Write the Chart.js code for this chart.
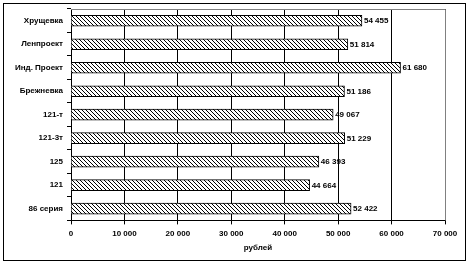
<!DOCTYPE html>
<html>
<head>
<meta charset="utf-8">
<script src="https://cdn.jsdelivr.net/npm/chart.js@4/dist/chart.umd.min.js"></script>
<style>
  html, body { margin: 0; padding: 0; background: #fff; }
  #wrap { position: absolute; left: 3px; top: 3px; width: 463px; height: 258px; border: 1px solid #000; box-sizing: border-box; }
  canvas { position: absolute; left: 0; top: 0; }
</style>
</head>
<body>
<div id="wrap"></div>
<canvas id="c" width="471" height="265"></canvas>
<script>
const categories = ['Хрущевка', 'Ленпроект', 'Инд. Проект', 'Брежневка', '121-т', '121-3т', '125', '121', '86 серия'];
const values = [54455, 51814, 61680, 51186, 49067, 51229, 46393, 44664, 52422];
const xTicks = [0, 10000, 20000, 30000, 40000, 50000, 60000, 70000];

function fmt(v) {
  return String(v).replace(/\B(?=(\d{3})+(?!\d))/g, ' ');
}

// diagonal hatch
const pc = document.createElement('canvas');
pc.width = 4; pc.height = 4;
const px = pc.getContext('2d');
px.fillStyle = '#fff';
px.fillRect(0, 0, 4, 4);
px.strokeStyle = '#000';
px.lineWidth = 1;
px.beginPath();
px.moveTo(-1, -1); px.lineTo(5, 5);
px.moveTo(-1, 3); px.lineTo(1, 5);
px.moveTo(3, -1); px.lineTo(5, 1);
px.stroke();
const ctx = document.getElementById('c').getContext('2d');
const hatch = ctx.createPattern(pc, 'repeat');

const FONT = { family: '"Liberation Sans", Arial, sans-serif', size: 8, weight: 'bold' };

const extras = {
  id: 'extras',
  afterDatasetsDraw(chart) {
    const c = chart.ctx, a = chart.chartArea;
    c.save();
    c.strokeStyle = '#808080';
    c.lineWidth = 1;
    c.beginPath();
    c.moveTo(a.left, a.top + 0.5); c.lineTo(a.right + 0.5, a.top + 0.5);
    c.lineTo(a.right + 0.5, a.bottom);
    c.stroke();
    c.fillStyle = '#000';
    c.font = 'bold 8px "Liberation Sans", Arial, sans-serif';
    c.textBaseline = 'middle';
    chart.getDatasetMeta(0).data.forEach((b, i) => {
      c.fillText(fmt(values[i]), b.x + 2, b.y + 0.5);
    });
    c.restore();
  }
};

new Chart(ctx, {
  type: 'bar',
  data: {
    labels: categories,
    datasets: [{
      data: values,
      backgroundColor: hatch,
      borderColor: '#000',
      borderWidth: 1,
      barThickness: 11
    }]
  },
  options: {
    indexAxis: 'y',
    responsive: false,
    animation: false,
    devicePixelRatio: 1,
    layout: { padding: { left: 4, right: 26, top: 9, bottom: 13 } },
    plugins: { legend: { display: false }, tooltip: { enabled: false } },
    scales: {
      x: {
        min: 0, max: 70000,
        afterBuildTicks: s => { s.ticks = xTicks.map(v => ({ value: v })); },
        grid: { color: '#000', lineWidth: 1, tickLength: 4 },
        border: { color: '#000' },
        ticks: { color: '#000', font: FONT, padding: 5, maxRotation: 0, callback: v => fmt(v) },
        title: { display: true, text: 'рублей', color: '#000', font: { ...FONT, lineHeight: 1 }, padding: { top: 0, bottom: 0 } }
      },
      y: {
        afterFit: s => { s.width = 67; },
        grid: { offset: true, drawOnChartArea: false, color: '#000', tickLength: 4 },
        border: { color: '#000' },
        ticks: { color: '#000', font: FONT, padding: 4 }
      }
    }
  },
  plugins: [extras]
});
</script>
</body>
</html>
